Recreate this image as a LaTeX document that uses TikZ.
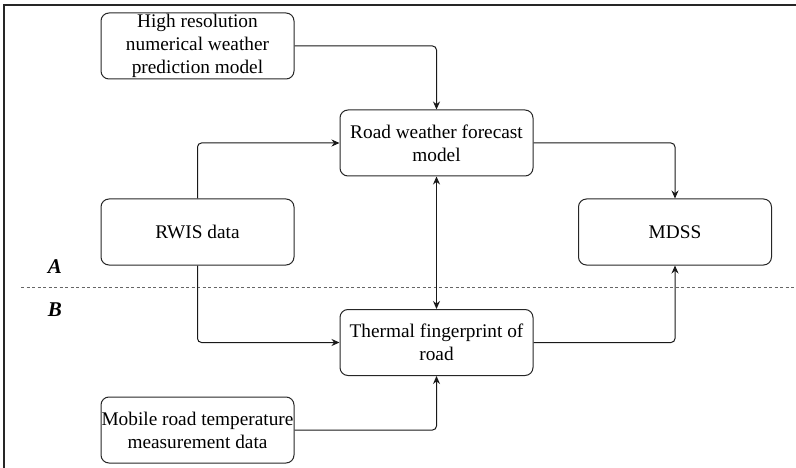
\documentclass[tikz,border=0pt]{standalone}
\usepackage{fontspec}
\setmainfont{Liberation Serif}
\usetikzlibrary{arrows.meta}
\begin{document}
\begin{tikzpicture}[x=1pt,y=-1pt,
  box/.style={draw=black!85, line width=1pt, rounded corners=8pt,
    minimum width=193pt, minimum height=66pt, align=center, inner sep=0pt,
    font=\fontsize{19.3}{23}\selectfont},
  conn/.style={draw=black!90, line width=1pt, rounded corners=4pt,
    -{Stealth[length=8pt,width=7pt]}},
  both/.style={draw=black!90, line width=1pt,
    {Stealth[length=8pt,width=7pt]}-{Stealth[length=8pt,width=7pt]}},
  sep/.style={draw=black!60, line width=1pt, dash pattern=on 3pt off 2.5pt},
  zone/.style={font=\fontsize{21}{23}\selectfont\bfseries\itshape},
  frame/.style={draw=black!85, line width=1.4pt}
]
\useasboundingbox (0,0) rectangle (796,468);
\draw[frame] (4,468) -- (4,5) -- (796,5);

\node[box] (hr)   at (197.5,46)  {High resolution\\numerical weather\\prediction model};
\node[box] (rwf)  at (436.5,143) {Road weather forecast\\model};
\node[box] (rwis) at (197.5,232) {RWIS data};
\node[box] (mdss) at (675,232)   {MDSS};
\node[box] (tf)   at (436.5,342.5) {Thermal fingerprint of\\road};
\node[box] (mob)  at (197.5,430) {Mobile road temperature\\measurement data};

\coordinate (d1) at (21,287);
\coordinate (d2) at (796,287);
\draw[sep] (d1) -- (d2);
\node[zone] (la) at (55,267) {A};
\node[zone] (lb) at (55,310) {B};

\draw[conn] (hr.east) -| (rwf.north);
\draw[conn] (rwis.north) |- (rwf.west);
\draw[conn] (rwf.east) -| (mdss.north);
\draw[both] (rwf.south) -- (tf.north);
\draw[conn] (rwis.south) |- (tf.west);
\draw[conn] (tf.east) -| (mdss.south);
\draw[conn] (mob.east) -| (tf.south);
\end{tikzpicture}
\end{document}
